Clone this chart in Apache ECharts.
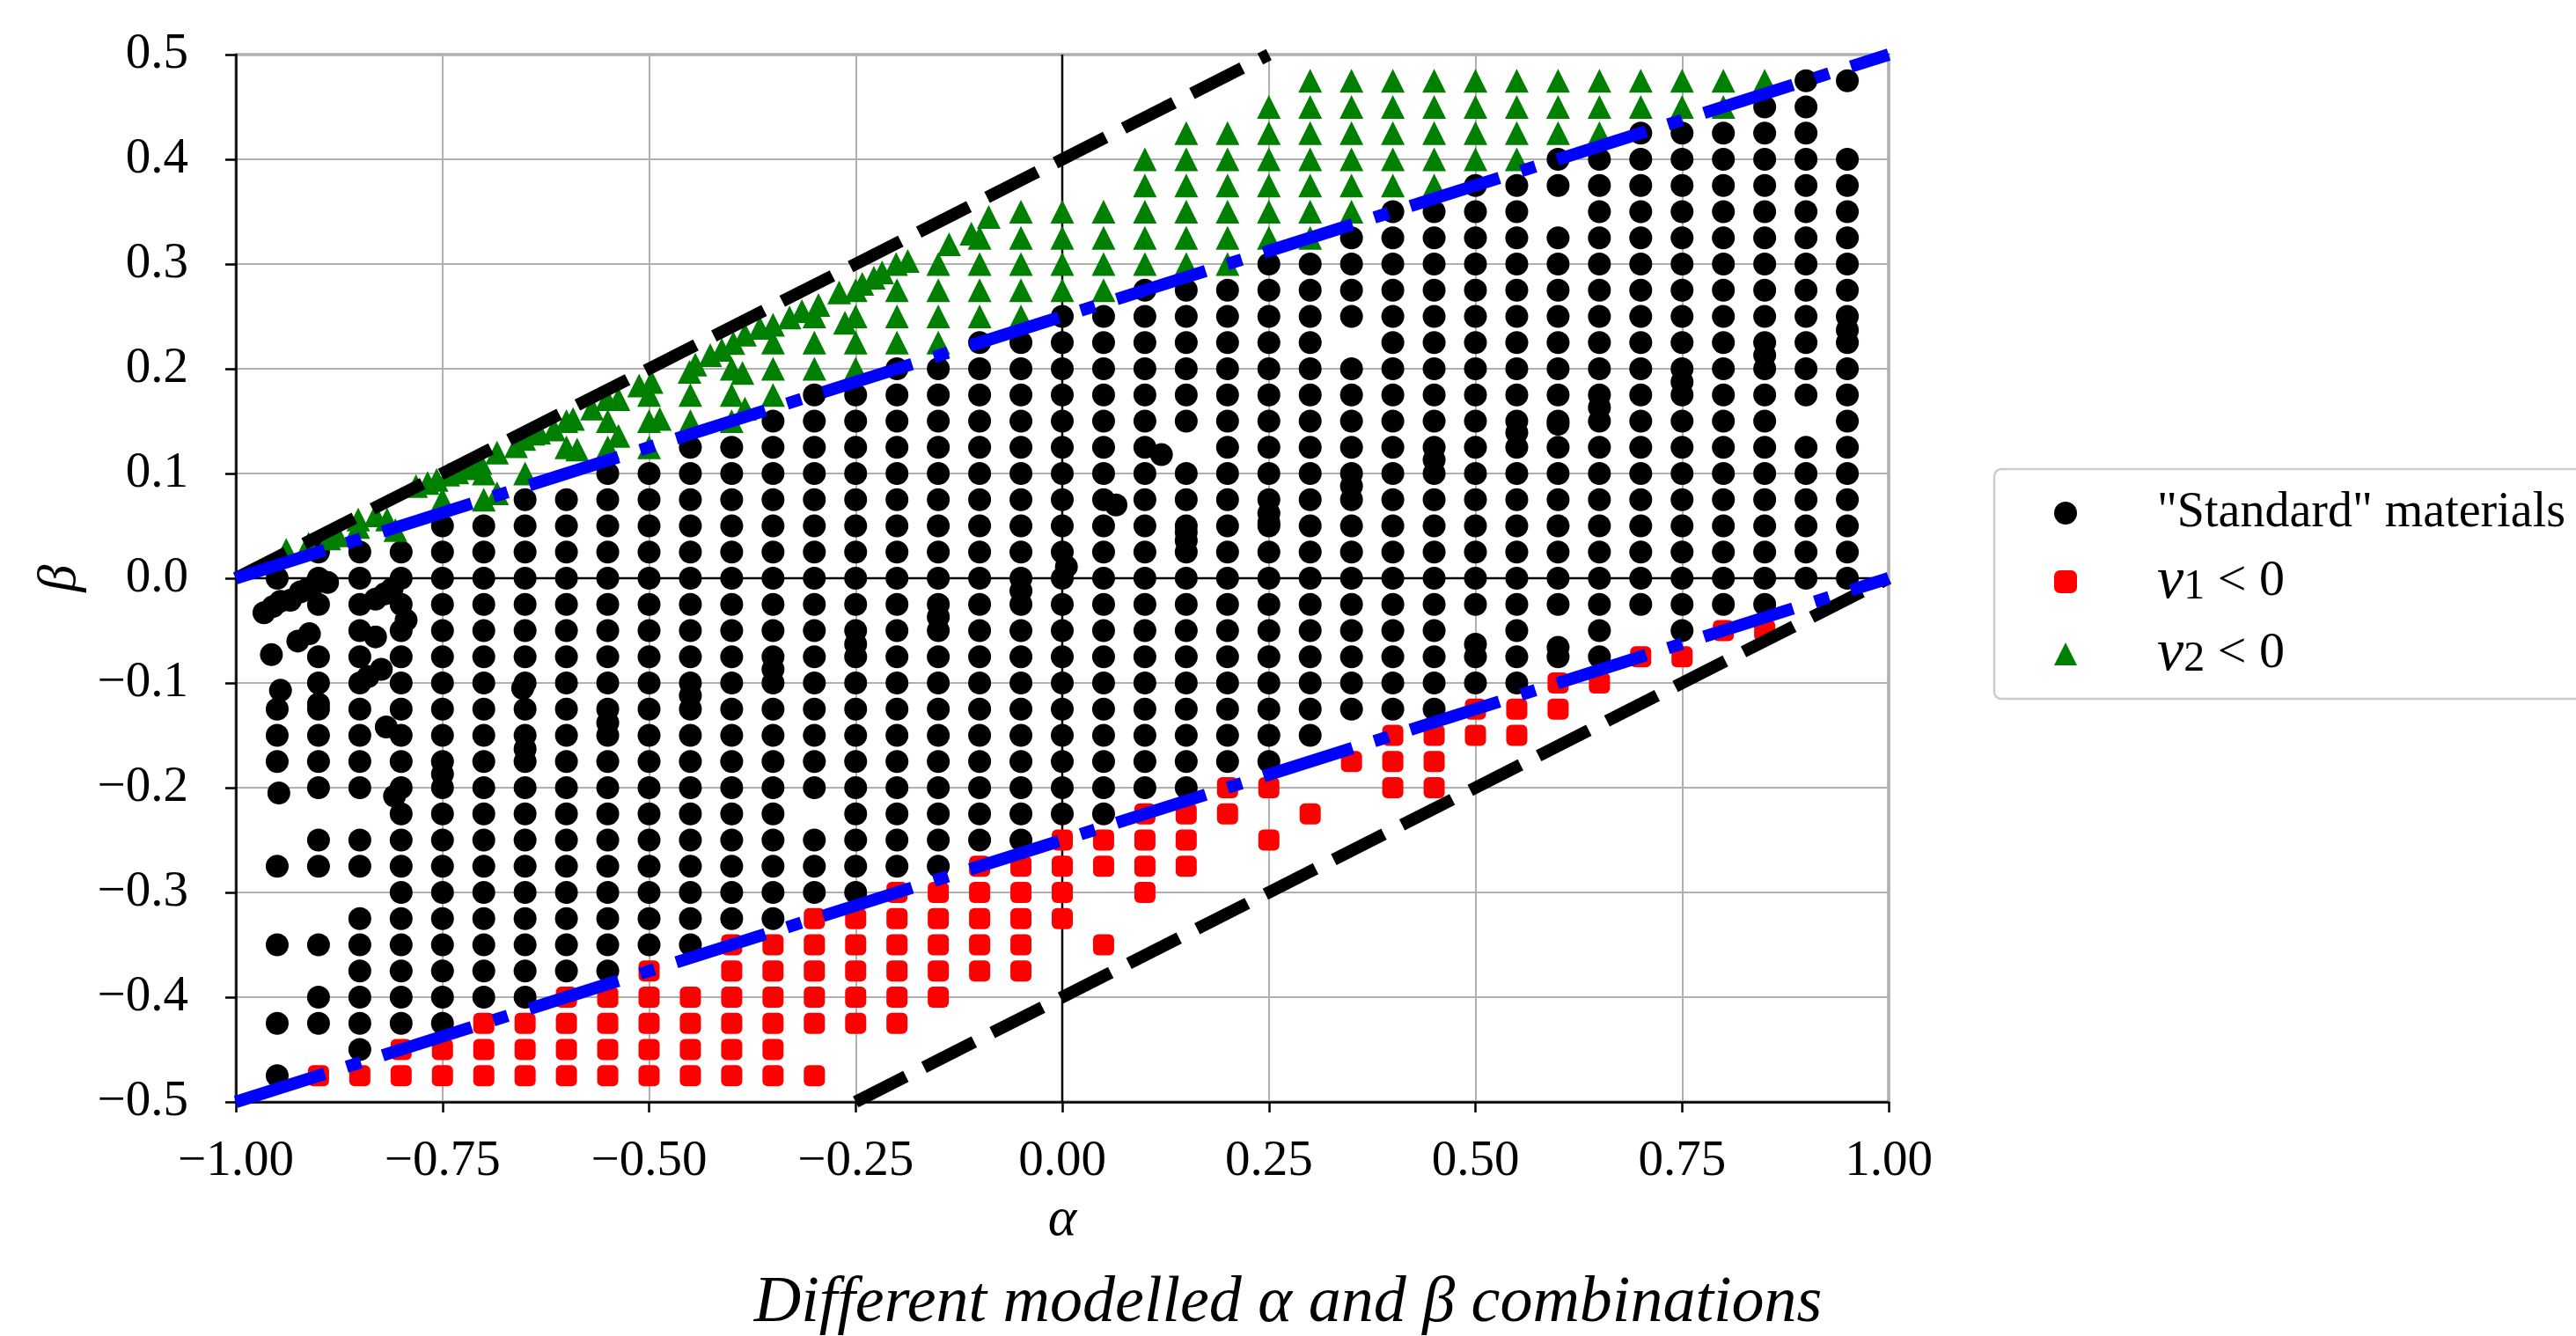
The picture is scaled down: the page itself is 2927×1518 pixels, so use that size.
<!DOCTYPE html>
<html>
<head>
<meta charset="utf-8">
<script src="https://cdn.jsdelivr.net/npm/echarts@6/dist/echarts.min.js"></script>
<style>
html, body { margin: 0; padding: 0; background: #fff; }
#chart { width: 2927px; height: 1518px; }
</style>
</head>
<body>
<div id="chart"></div>
<script>
var alphaCols = [-0.95, -0.9, -0.85, -0.8, -0.75, -0.7, -0.65, -0.6, -0.55, -0.5,
    -0.45, -0.4, -0.35, -0.3, -0.25, -0.2, -0.15, -0.1, -0.05, 0,
    0.05, 0.1, 0.15, 0.2, 0.25, 0.3, 0.35, 0.4, 0.45, 0.5,
    0.55, 0.6, 0.65, 0.7, 0.75, 0.8, 0.85, 0.9, 0.95];
var betaRows = [0.475, 0.45, 0.425, 0.4, 0.375, 0.35, 0.325, 0.3, 0.275, 0.25,
    0.225, 0.2, 0.175, 0.15, 0.125, 0.1, 0.075, 0.05, 0.025, 0,
    -0.025, -0.05, -0.075, -0.1, -0.125, -0.15, -0.175, -0.2, -0.225, -0.25,
    -0.275, -0.3, -0.325, -0.35, -0.375, -0.4, -0.425, -0.45, -0.475];

// one string per alpha column, beta read from top (0.475) to bottom (-0.475)
// o = "Standard" material, s = nu1 < 0, t = nu2 < 0, . = no point
var columnMarks = [
    '..... ..... ..... ....o ....o oo... o..o. .o.o',
    '..... ..... ..... ...oo o.ooo ooo.o o..o. oo.s',
    '..... ..... ..... ...oo ooooo ooo.o o.ooo ooos',
    '..... ..... ..... ...oo ooooo ooooo ooooo ooss',
    '..... ..... ..... .tooo ooooo ooooo ooooo ooss',
    '..... ..... ..... ttooo ooooo ooooo ooooo osss',
    '..... ..... ..... toooo ooooo ooooo ooooo osss',
    '..... ..... ...tt .oooo ooooo ooooo ooooo ssss',
    '..... ..... ...tt ooooo ooooo ooooo ooooo ssss',
    '..... ..... ..ttt ooooo ooooo ooooo oooos ssss',
    '..... ..... ..tto ooooo ooooo ooooo oooo. ssss',
    '..... ..... .ttto ooooo ooooo ooooo oooss ssss',
    '..... ..... tttoo ooooo ooooo ooooo oooss ssss',
    '..... ....t ttooo ooooo ooooo ooo.o oosss ss.s',
    '..... ...tt ttooo ooooo ooooo ooooo oosss ss..',
    '..... ...tt toooo ooooo ooooo ooooo ossss ss..',
    '..... ..ttt toooo ooooo ooooo ooooo ossss s...',
    '..... .tttt ooooo ooooo ooooo ooooo sssss ....',
    '..... ttttt ooooo ooooo ooooo ooooo sssss ....',
    '..... tttto ooooo ooooo ooooo oooos sss.. ....',
    '..... tttto ooooo ooooo ooooo oooos s..s. ....',
    '...tt tttoo ooooo ooooo ooooo oooss ss... ....',
    '..ttt tttoo oooo. ooooo ooooo oooss s.... ....',
    '..ttt tttoo ooooo ooooo ooooo ooss. ..... ....',
    '.tttt ttooo ooooo ooooo ooooo oos.s ..... ....',
    'ttttt ttooo ooooo ooooo ooooo o..s. ..... ....',
    'ttttt toooo .oooo ooooo ooooo .s... ..... ....',
    'ttttt ooooo ooooo ooooo ooooo sss.. ..... ....',
    'ttttt ooooo ooooo ooooo ooooo sss.. ..... ....',
    'tttto ooooo ooooo ooooo o.oos s.... ..... ....',
    'tttto ooooo ooooo ooooo oooos s.... ..... ....',
    'tttoo .oooo ooooo ooooo o.oss ..... ..... ....',
    'tttoo ooooo ooooo ooooo ooos. ..... ..... ....',
    'ttooo ooooo ooooo ooooo o.s.. ..... ..... ....',
    'ttooo ooooo ooooo ooooo oos.. ..... ..... ....',
    'ttooo ooooo ooooo ooooo os... ..... ..... ....',
    'toooo ooooo ooooo ooooo os... ..... ..... ....',
    'ooooo ooooo ooo.o ooooo ..... ..... ..... ....',
    'o..oo ooooo ooooo ooooo ..... ..... ..... ....'
];

// points that sit off the regular grid
var extraStandard = [
    [-0.966, -0.033], [-0.955, -0.027], [-0.946, -0.022], [-0.934, -0.021], [-0.922, -0.013],
    [-0.913, -0.010], [-0.902, -0.004], [-0.889, -0.004], [-0.925, -0.060], [-0.911, -0.053],
    [-0.957, -0.073], [-0.946, -0.107], [-0.948, -0.205], [-0.900, -0.120], [-0.831, -0.056],
    [-0.831, -0.020], [-0.820, -0.015], [-0.811, -0.010], [-0.824, -0.087], [-0.840, -0.094],
    [-0.818, -0.142], [-0.808, -0.208], [-0.794, -0.040], [-0.750, -0.187], [-0.653, -0.105],
    [-0.650, -0.163], [-0.550, -0.138], [-0.450, -0.112], [-0.350, -0.087], [-0.250, -0.063],
    [-0.150, -0.037], [-0.050, -0.012], [0.005, 0.011], [0.065, 0.070], [0.120, 0.118],
    [0.150, 0.044], [0.150, 0.036], [0.250, 0.062], [0.250, 0.053], [0.350, 0.088],
    [0.450, 0.113], [0.550, 0.139], [0.600, 0.147], [0.650, 0.163], [0.750, 0.1875],
    [0.850, 0.213], [0.950, 0.237], [0.500, -0.063], [0.600, -0.066]
];
var extraNu2 = [
    [-0.939, 0.027], [-0.912, 0.033], [-0.887, 0.038], [-0.877, 0.041], [-0.852, 0.056],
    [-0.852, 0.049], [-0.831, 0.060], [-0.817, 0.056], [-0.807, 0.046], [-0.782, 0.088],
    [-0.768, 0.091], [-0.757, 0.094], [-0.743, 0.099], [-0.732, 0.101], [-0.718, 0.105],
    [-0.704, 0.110], [-0.684, 0.120], [-0.684, 0.081], [-0.661, 0.126], [-0.651, 0.133],
    [-0.640, 0.138], [-0.633, 0.139], [-0.615, 0.142], [-0.592, 0.152], [-0.587, 0.123],
    [-0.569, 0.162], [-0.551, 0.171], [-0.537, 0.171], [-0.537, 0.136], [-0.512, 0.184],
    [-0.497, 0.1875], [-0.487, 0.152], [-0.451, 0.197], [-0.444, 0.204], [-0.426, 0.213],
    [-0.412, 0.218], [-0.398, 0.2245], [-0.387, 0.196], [-0.384, 0.162], [-0.384, 0.2325],
    [-0.366, 0.239], [-0.350, 0.242], [-0.330, 0.249], [-0.315, 0.255], [-0.295, 0.261],
    [-0.270, 0.273], [-0.263, 0.244], [-0.242, 0.281], [-0.228, 0.287], [-0.218, 0.292],
    [-0.201, 0.300], [-0.187, 0.303], [-0.137, 0.319], [-0.110, 0.329], [-0.089, 0.345]
];

// bounding lines, as end points [alpha, beta]
var dashedBounds = [[[-1, 0], [0.25, 0.5]], [[-0.25, -0.5], [1, 0]]];
var dashDotBounds = [[[-1, 0], [1, 0.5]], [[-1, -0.5], [1, 0]]];
var zeroLines = [[[-1, 0], [1, 0]], [[0, -0.5], [0, 0.5]]];

var seriesNames = ['"Standard" materials', 'ν1 < 0', 'ν2 < 0'];

function collect(code) {
    var pts = [];
    columnMarks.forEach(function (col, j) {
        var s = col.replace(/ /g, '');
        for (var i = 0; i < s.length; i++) {
            if (s[i] === code) pts.push([alphaCols[j], betaRows[i]]);
        }
    });
    return pts;
}

var standardPts = collect('o').concat(extraStandard);
var nu1Pts = collect('s');
var nu2Pts = collect('t').concat(extraNu2);

var serif = 'Liberation Serif';
function minus(str) { return str.replace('-', '\u2212'); }

function lineSeries(pts, color, width, type, z) {
    return {
        type: 'line', data: pts, showSymbol: false, silent: true, z: z,
        lineStyle: { color: color, width: width, type: type, cap: 'butt' }
    };
}

var myChart = echarts.init(document.getElementById('chart'));

var series = [];
zeroLines.forEach(function (l) { series.push(lineSeries(l, '#000', 2.5, 'solid', 1)); });
series.push({
    name: seriesNames[0], type: 'scatter', data: standardPts, z: 3,
    symbol: 'circle', symbolSize: 26, itemStyle: { color: '#000', opacity: 1 }
});
series.push({
    name: seriesNames[1], type: 'scatter', data: nu1Pts, z: 3,
    symbol: 'roundRect', symbolSize: 24, itemStyle: { color: '#ff0000', opacity: 1 }
});
series.push({
    name: seriesNames[2], type: 'scatter', data: nu2Pts, z: 3,
    symbol: 'triangle', symbolSize: 27, itemStyle: { color: '#008000', opacity: 1 }
});
dashedBounds.forEach(function (l) { series.push(lineSeries(l, '#000', 14, [64, 23], 5)); });
dashDotBounds.forEach(function (l) { series.push(lineSeries(l, '#0000ff', 14, [106, 26, 17, 26], 5)); });

myChart.setOption({
    animation: false,
    backgroundColor: '#fff',
    title: {
        text: 'Different modelled α and β combinations',
        left: 'center',
        top: 1440,
        textStyle: { fontFamily: serif, fontStyle: 'italic', fontWeight: 'normal', fontSize: 74, color: '#000' }
    },
    grid: {
        left: 268, right: 781, top: 62, bottom: 266,
        show: true, borderColor: '#000', borderWidth: 2.5
    },
    legend: {
        data: seriesNames,
        orient: 'vertical',
        left: 2266,
        top: 533,
        itemWidth: 26,
        itemHeight: 26,
        itemGap: 14,
        padding: [20, 80, 17, 68],
        backgroundColor: '#fff',
        borderColor: '#cccccc',
        borderWidth: 2.5,
        borderRadius: 8,
        formatter: function (name) {
            if (name === seriesNames[1]) return '{nu|ν}{sub|1}{op| < 0}';
            if (name === seriesNames[2]) return '{nu|ν}{sub|2}{op| < 0}';
            return name;
        },
        textStyle: {
            fontFamily: serif, fontSize: 56, color: '#000', lineHeight: 60,
            padding: [0, 0, 0, 86],
            rich: {
                nu: { fontFamily: serif, fontStyle: 'italic', fontSize: 68, lineHeight: 60 },
                sub: { fontFamily: serif, fontSize: 48, lineHeight: 34, verticalAlign: 'bottom' },
                op: { fontFamily: serif, fontSize: 58, lineHeight: 60 }
            }
        }
    },
    xAxis: {
        type: 'value', min: -1, max: 1, interval: 0.25,
        name: 'α', nameLocation: 'middle', nameGap: 104,
        nameTextStyle: { fontFamily: serif, fontStyle: 'italic', fontSize: 62, color: '#000' },
        axisLine: { onZero: false, lineStyle: { color: '#000', width: 2.5 } },
        axisTick: { length: 12, lineStyle: { color: '#000', width: 2.5 } },
        axisLabel: {
            margin: 40, fontFamily: serif, fontSize: 57, color: '#000',
            formatter: function (v) { return minus(v.toFixed(2)); }
        },
        splitLine: { show: true, lineStyle: { color: '#b0b0b0', width: 2 } }
    },
    yAxis: {
        type: 'value', min: -0.5, max: 0.5, interval: 0.1,
        name: 'β', nameLocation: 'middle', nameGap: 158,
        nameTextStyle: { fontFamily: serif, fontStyle: 'italic', fontSize: 62, color: '#000' },
        axisLine: { onZero: false, lineStyle: { color: '#000', width: 2.5 } },
        axisTick: { length: 12, lineStyle: { color: '#000', width: 2.5 } },
        axisLabel: {
            margin: 54, fontFamily: serif, fontSize: 57, color: '#000',
            formatter: function (v) { return minus(v.toFixed(1)); }
        },
        splitLine: { show: true, lineStyle: { color: '#b0b0b0', width: 2 } }
    },
    series: series
});
</script>
</body>
</html>
